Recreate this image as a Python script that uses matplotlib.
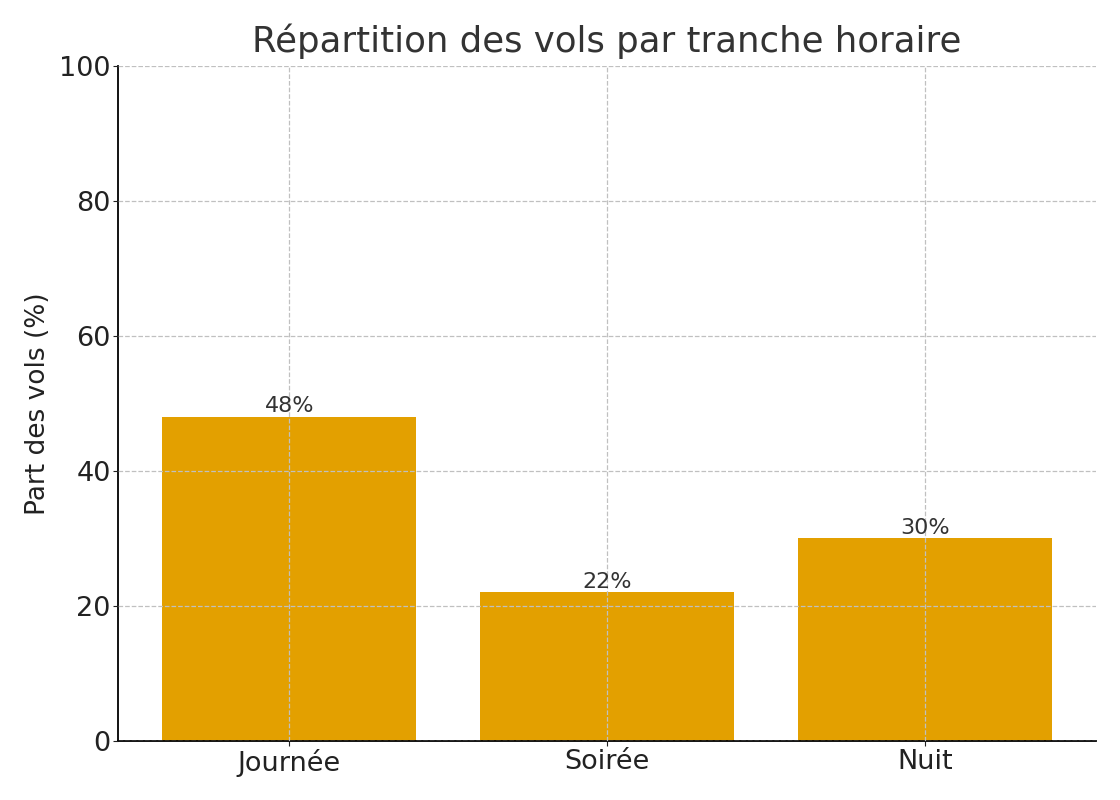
import matplotlib
matplotlib.use("Agg")
import matplotlib.pyplot as plt

categories = ["Journée", "Soirée", "Nuit"]
values = [48, 22, 30]
labels = ["48%", "22%", "30%"]

fig = plt.figure(figsize=(11.2, 8), dpi=100)
ax = fig.add_axes([0.105, 0.074, 0.874, 0.8435])
bars = ax.bar(categories, values, width=0.8, color="#E3A000", zorder=1)
ax.set_ylim(0, 100)
ax.grid(True, linestyle="--", color="#c0c0c0", linewidth=0.9, zorder=2)
ax.set_axisbelow(False)
for b, lab in zip(bars, labels):
    ax.text(b.get_x() + b.get_width() / 2, b.get_height() + 0.1, lab,
            ha="center", va="bottom", fontsize=16, color="#333333", zorder=3)
ax.set_title("Répartition des vols par tranche horaire", fontsize=25.6, color="#333333", pad=10)
ax.set_ylabel("Part des vols (%)", fontsize=19, color="#222222", labelpad=6)
ax.tick_params(axis="both", labelsize=19.5, colors="#222222", length=3.5, pad=2.5)
ax.tick_params(axis="y", pad=1.5)
ax.spines["top"].set_visible(False)
ax.spines["right"].set_visible(False)
ax.spines["left"].set_linewidth(1.3)
ax.spines["bottom"].set_linewidth(1.3)
fig.savefig("out.png", dpi=100)
